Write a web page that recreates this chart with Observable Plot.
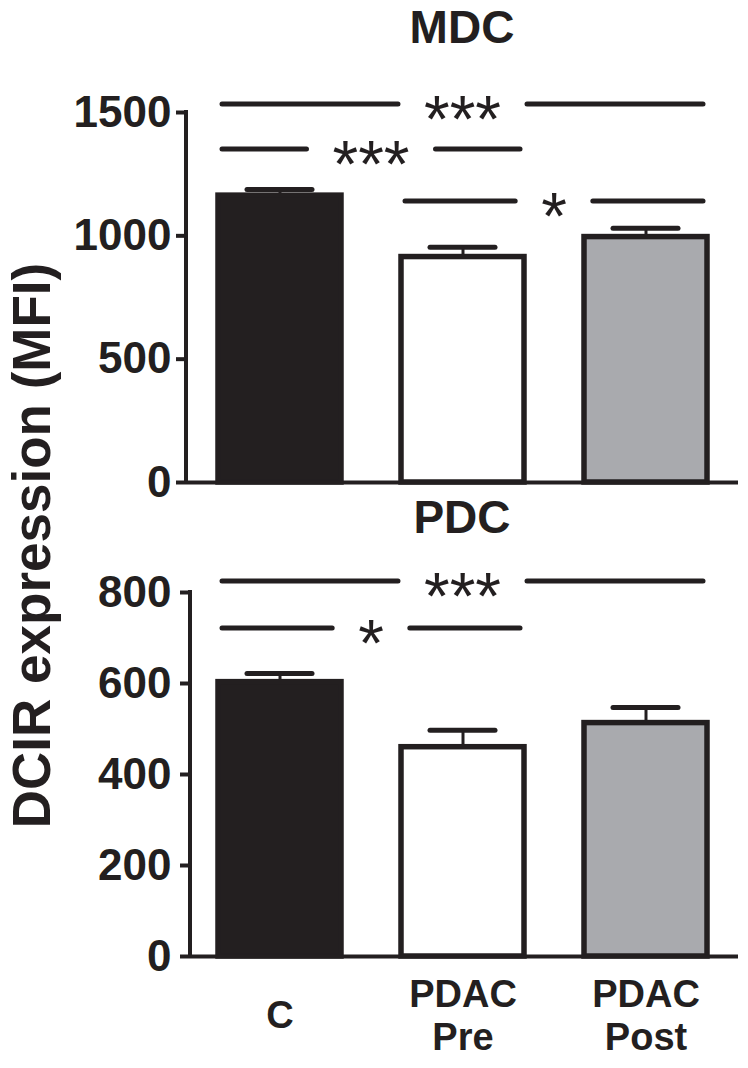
<!DOCTYPE html>
<html>
<head>
<meta charset="utf-8">
<script src="https://cdn.jsdelivr.net/npm/d3@7"></script>
<script src="https://cdn.jsdelivr.net/npm/@observablehq/plot@0.6"></script>
<style>
  body { margin: 0; background: #fff; }
  #wrap { position: relative; width: 748px; height: 1068px; font-family: "Liberation Sans", Arial, sans-serif; color: #231f20; overflow: hidden; }
  .title { position: absolute; left: 186px; width: 552px; text-align: center; font-size: 46px; font-weight: bold; line-height: 46px; }
  #ylab { position: absolute; width: 760px; height: 53px; line-height: 53px; left: -349px; top: 519px; text-align: center; font-size: 53px; font-weight: bold; transform: rotate(-90deg); white-space: nowrap; }
  .panel { position: absolute; left: 0; }
</style>
</head>
<body>
<div id="wrap">
  <div class="title" style="top:4px">MDC</div>
  <div class="title" style="top:494px">PDC</div>
  <div id="ylab">DCIR expression (MFI)</div>
  <div class="panel" id="top" style="top:0px"></div>
  <div class="panel" id="bottom" style="top:500px"></div>
</div>
<script>
// ---- data ----
const groups = ["C", "PDAC Pre", "PDAC Post"];
const groupLabels = ["C", "PDAC\nPre", "PDAC\nPost"];
const groupFills = ["#231f20", "#ffffff", "#a9aaae"];

const mdcMean = [1163, 914, 995];
const mdcUpper = [1188, 954, 1031];
const mdcTicks = [0, 500, 1000, 1500];
const mdcSigPairs = [["C", "PDAC Post"], ["C", "PDAC Pre"], ["PDAC Pre", "PDAC Post"]];
const mdcSigY = [1532, 1350, 1139];
const mdcSigLabels = ["***", "***", "*"];

const pdcMean = [603, 460, 513];
const pdcUpper = [622, 497, 547];
const pdcTicks = [0, 200, 400, 600, 800];
const pdcSigPairs = [["C", "PDAC Post"], ["C", "PDAC Pre"]];
const pdcSigY = [824, 721];
const pdcSigLabels = ["***", "*"];

// ---- style ----
const INK = "#231f20";
const FONT = '"Liberation Sans", Arial, sans-serif';
const SIG_FONT = 66;
const SIG_PAD = 26;
const SIG_INSET = 4;

const ctx2d = document.createElement("canvas").getContext("2d");
function textWidth(s) { ctx2d.font = `${SIG_FONT}px ${FONT}`; return ctx2d.measureText(s).width; }

function yAxisLine(index, scales, values, dims) {
  const x = dims.marginLeft;
  return d3.create("svg:line")
    .attr("x1", x).attr("x2", x)
    .attr("y1", dims.marginTop - 2).attr("y2", dims.height - dims.marginBottom)
    .attr("stroke", INK).attr("stroke-width", 4).node();
}

function sigMark(pairs, ys, labels) {
  return (index, scales, values, dims) => {
    const {x, y} = scales;
    const bw = x.bandwidth ? x.bandwidth() : 0;
    const g = d3.create("svg:g");
    pairs.forEach(([a, b], i) => {
      const xa = x(a) + SIG_INSET, xb = x(b) + bw - SIG_INSET;
      const xm = (x(a) + x(b) + bw) / 2;
      const yy = y(ys[i]);
      const half = textWidth(labels[i]) / 2 + SIG_PAD;
      for (const [p, q] of [[xa, xm - half], [xm + half, xb]]) {
        g.append("line").attr("x1", p).attr("x2", q).attr("y1", yy).attr("y2", yy)
          .attr("stroke", INK).attr("stroke-width", 5).attr("stroke-linecap", "round");
      }
      g.append("text").attr("x", xm).attr("y", yy + SIG_FONT * 0.58)
        .attr("text-anchor", "middle").attr("font-size", SIG_FONT)
        .attr("font-family", FONT).attr("fill", INK).text(labels[i]);
    });
    return g.node();
  };
}

function panel({means, uppers, ticks, yMax, pairs, sigYs, sigLabels, height, marginTop, marginBottom, marginLeft, tickPadding, showX}) {
  const data = groups.map((g, i) => ({group: g, mean: means[i], upper: uppers[i], fill: groupFills[i], label: groupLabels[i]}));
  const marks = [
    Plot.ruleX(data, {x: "group", y1: "mean", y2: "upper", stroke: INK, strokeWidth: 3}),
    Plot.tickY(data, {x: "group", y: "upper", stroke: INK, strokeWidth: 5, insetLeft: 29, insetRight: 29, strokeLinecap: "round"}),
    Plot.barY(data, {x: "group", y: "mean", fill: "fill", stroke: INK, strokeWidth: 5.5}),
    Plot.ruleY([0], {stroke: INK, strokeWidth: 4}),
    yAxisLine,
    Plot.axisY({ticks, tickSize: 10, tickPadding, strokeWidth: 4, fontSize: 44, fontWeight: "bold", label: null, tickFormat: d => String(d), fill: INK, stroke: INK}),
    sigMark(pairs, sigYs, sigLabels)
  ];
  if (showX) {
    marks.push(Plot.text(data, {x: "group", text: "label", frameAnchor: "bottom", dy: 58, lineAnchor: "middle", lineHeight: 1.15, fontSize: 38, fontWeight: "bold", fill: INK}));
  }
  return Plot.plot({
    width: 748, height, marginTop, marginBottom, marginLeft, marginRight: 10,
    style: {fontFamily: FONT, color: INK, background: "transparent", overflow: "visible"},
    x: {domain: groups, range: [186, 738], paddingInner: 0.33, paddingOuter: 0.169, axis: null},
    y: {domain: [0, yMax]},
    color: {type: "identity"},
    marks
  });
}

document.getElementById("top").appendChild(panel({
  means: mdcMean, uppers: mdcUpper, ticks: mdcTicks, yMax: 1500,
  pairs: mdcSigPairs, sigYs: mdcSigY, sigLabels: mdcSigLabels,
  height: 500, marginTop: 112, marginBottom: 18, marginLeft: 186, tickPadding: 5, showX: false
}));
document.getElementById("bottom").appendChild(panel({
  means: pdcMean, uppers: pdcUpper, ticks: pdcTicks, yMax: 800,
  pairs: pdcSigPairs, sigYs: pdcSigY, sigLabels: pdcSigLabels,
  height: 568, marginTop: 92, marginBottom: 112, marginLeft: 190, tickPadding: 9, showX: true
}));
</script>
</body>
</html>
